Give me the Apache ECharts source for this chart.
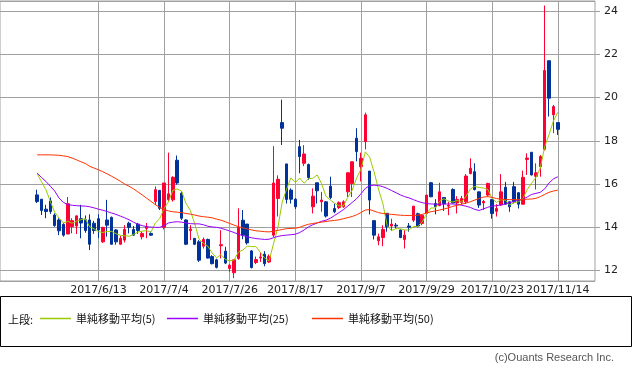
<!DOCTYPE html>
<html><head><meta charset="utf-8">
<script src="https://cdn.jsdelivr.net/npm/echarts@6/dist/echarts.min.js"></script>
<style>html,body{margin:0;padding:0;background:#fff;}#c{width:633px;height:370px;}</style>
</head><body><div id="c"></div>
<script>
const dates = ['2017/5/24','2017/5/25','2017/5/26','2017/5/29','2017/5/30','2017/5/31',
'2017/6/1','2017/6/2','2017/6/5','2017/6/6','2017/6/7','2017/6/8','2017/6/9','2017/6/12','2017/6/13','2017/6/14','2017/6/15','2017/6/16','2017/6/19','2017/6/20','2017/6/21','2017/6/22','2017/6/23','2017/6/26','2017/6/27','2017/6/28','2017/6/29','2017/6/30',
'2017/7/3','2017/7/4','2017/7/5','2017/7/6','2017/7/7','2017/7/10','2017/7/11','2017/7/12','2017/7/13','2017/7/14','2017/7/18','2017/7/19','2017/7/20','2017/7/21','2017/7/24','2017/7/25','2017/7/26','2017/7/27','2017/7/28','2017/7/31',
'2017/8/1','2017/8/2','2017/8/3','2017/8/4','2017/8/7','2017/8/8','2017/8/9','2017/8/10','2017/8/14','2017/8/15','2017/8/16','2017/8/17','2017/8/18','2017/8/21','2017/8/22','2017/8/23','2017/8/24','2017/8/25','2017/8/28','2017/8/29','2017/8/30','2017/8/31',
'2017/9/1','2017/9/4','2017/9/5','2017/9/6','2017/9/7','2017/9/8','2017/9/11','2017/9/12','2017/9/13','2017/9/14','2017/9/15','2017/9/19','2017/9/20','2017/9/21','2017/9/22','2017/9/25','2017/9/26','2017/9/27','2017/9/28','2017/9/29',
'2017/10/2','2017/10/3','2017/10/4','2017/10/5','2017/10/6','2017/10/10','2017/10/11','2017/10/12','2017/10/13','2017/10/16','2017/10/17','2017/10/18','2017/10/19','2017/10/20','2017/10/23','2017/10/24','2017/10/25','2017/10/26','2017/10/27','2017/10/30','2017/10/31',
'2017/11/1','2017/11/2','2017/11/6','2017/11/7','2017/11/8','2017/11/9','2017/11/10','2017/11/13','2017/11/14'];

const tickLabels = ['2017/6/13','2017/7/4','2017/7/26','2017/8/17','2017/9/7','2017/9/29','2017/10/23','2017/11/14'];

const opens = [15.50,15.30,14.84,15.22,14.57,14.34,14.14,13.69,14.03,14.06,
14.40,14.35,14.34,14.19,14.40,13.33,14.34,14.46,13.88,13.22,
13.41,14.19,13.90,14.15,13.56,13.95,13.72,15.19,15.71,14.00,
15.28,15.27,17.10,15.58,14.34,13.85,13.49,13.33,13.13,13.44,
12.65,12.50,13.15,12.90,12.10,11.90,12.56,14.33,14.15,12.91,
12.37,12.58,12.76,12.40,13.64,15.33,18.84,16.93,15.72,15.30,
17.73,16.96,16.90,14.95,16.06,15.18,15.18,15.90,14.87,14.92,
14.95,15.64,16.03,18.12,16.80,17.96,16.60,14.31,13.38,13.53,
14.65,14.06,14.10,13.88,13.44,14.06,14.33,14.63,14.18,14.64,
16.06,15.10,15.00,15.38,14.98,15.75,15.13,15.15,15.18,16.49,
16.57,15.64,15.13,15.49,15.29,14.74,15.03,15.85,15.18,15.88,
15.60,15.07,17.14,17.47,16.36,16.80,17.61,21.70,19.20,18.84];

const closes = [15.19,14.78,14.73,14.73,14.08,13.84,13.64,15.09,14.31,14.53,
14.20,13.85,13.22,13.85,13.88,14.00,14.10,13.22,13.33,13.49,
13.90,14.00,13.64,13.85,13.72,14.03,13.64,15.74,14.88,16.05,
15.55,16.31,16.05,14.42,13.22,13.92,13.22,12.48,13.44,12.58,
12.32,12.15,13.20,12.35,12.25,12.50,14.00,13.64,13.28,12.14,
12.51,12.63,12.32,12.66,16.05,16.22,18.58,15.29,15.30,14.95,
17.27,17.39,16.30,15.44,15.69,15.26,14.52,15.38,14.72,15.14,
15.18,16.52,17.03,17.50,17.19,19.20,15.26,13.64,13.56,13.90,
14.02,14.15,14.06,13.53,13.64,14.00,14.98,14.06,14.56,15.49,
15.41,14.95,15.64,15.10,15.02,15.13,15.29,15.33,16.37,16.73,
15.75,15.03,15.20,16.03,14.64,14.87,15.64,15.07,14.95,15.18,
15.07,16.31,17.20,16.42,16.52,17.27,21.25,19.97,19.58,18.53];

const lows = [15.12,14.57,14.42,14.62,14.03,13.64,13.57,13.69,13.72,13.69,
13.49,13.75,12.95,13.70,13.50,13.28,13.57,13.20,13.20,13.20,
13.30,13.72,13.60,13.70,13.44,13.50,13.60,15.04,14.80,13.90,
15.20,15.19,15.97,14.34,13.18,13.41,13.18,12.40,13.02,12.56,
12.29,12.10,12.56,12.30,11.95,11.65,12.50,13.45,13.20,12.10,
12.30,12.40,12.20,12.35,13.55,14.50,17.80,15.10,15.10,14.85,
16.50,16.83,16.20,14.64,15.10,14.72,14.45,15.30,14.65,14.85,
14.90,15.40,15.40,17.05,16.12,17.60,14.60,13.44,13.17,13.13,
13.80,13.84,13.95,13.50,13.02,13.80,14.25,14.00,14.10,14.60,
15.40,14.60,14.98,14.76,14.56,15.10,14.64,15.05,15.08,16.45,
15.70,14.90,14.80,15.42,14.40,14.50,15.00,15.05,14.72,15.10,
14.87,15.05,16.42,16.40,15.75,16.34,17.55,19.12,18.35,18.27];

const highs = [15.74,15.30,15.04,15.38,14.65,14.42,14.19,15.40,14.42,14.53,
15.04,14.55,14.60,14.30,14.60,14.02,15.27,14.50,13.92,13.60,
14.10,14.26,14.06,14.20,13.80,14.20,13.80,15.89,15.71,16.05,
17.45,16.36,17.32,15.66,14.37,14.10,13.49,13.41,13.53,13.48,
12.71,12.55,13.87,13.10,12.30,12.50,14.88,14.80,14.15,12.95,
12.65,12.85,12.90,12.75,17.75,16.40,19.90,16.93,15.80,15.35,
18.04,17.80,16.95,15.80,16.06,15.64,15.20,16.34,15.10,15.20,
15.25,16.55,17.05,18.58,17.45,19.30,16.60,14.31,13.71,14.10,
14.65,14.40,14.20,13.90,13.87,14.20,14.99,14.68,14.60,15.50,
16.10,15.30,16.06,15.38,15.18,15.80,15.44,15.45,16.46,17.19,
16.96,15.65,15.26,16.06,15.29,15.07,16.46,16.10,15.20,16.10,
15.62,16.62,17.42,17.47,16.96,17.34,24.25,21.70,19.66,18.84];

const ma5 = [16.48,16.10,15.74,15.20,14.70,14.43,14.20,14.28,14.19,14.28,
14.35,14.40,14.02,13.93,13.80,13.76,13.81,13.81,13.71,13.63,
13.61,13.59,13.67,13.78,13.82,13.85,13.78,14.20,14.40,14.87,
15.17,15.71,15.77,15.68,15.11,14.78,14.17,13.45,13.26,13.13,
12.81,12.59,12.74,12.52,12.45,12.49,12.86,12.95,13.13,13.11,
13.11,12.84,12.58,12.45,13.23,13.98,15.17,15.76,16.29,16.07,
16.28,16.04,16.24,16.27,16.42,16.02,15.44,15.26,15.11,15.00,
14.99,15.39,15.72,16.27,16.68,17.49,17.24,16.56,15.77,15.11,
14.08,13.85,13.94,13.93,13.88,13.88,14.04,14.04,14.25,14.62,
14.90,14.89,15.21,15.32,15.22,15.17,15.24,15.17,15.43,15.77,
15.89,15.84,15.82,15.75,15.33,15.15,15.28,15.25,15.03,15.14,
15.18,15.32,15.74,16.04,16.30,16.74,17.73,18.29,18.92,19.32];

const ma25 = [16.51,16.30,16.12,15.90,15.68,15.35,
15.15,15.05,15.02,15.00,14.99,
14.98,14.95,14.90,14.84,14.79,
14.73,14.66,14.60,14.52,14.44,
14.35,14.24,14.14,14.08,14.03,
14.01,14.00,14.00,14.08,14.20,
14.24,14.26,14.24,14.20,14.17,
14.16,14.16,14.12,14.05,14.02,
14.00,13.96,13.90,13.83,13.76,
13.68,13.62,13.56,13.52,13.48,
13.46,13.44,13.45,13.52,13.58,
13.62,13.64,13.66,13.68,13.76,
13.88,14.02,14.12,14.20,14.28,
14.33,14.42,14.55,14.68,14.82,
14.98,15.15,15.32,15.55,15.80,
15.93,15.95,15.93,15.88,15.80,
15.70,15.60,15.50,15.42,15.36,
15.28,15.20,15.14,15.10,15.08,
15.07,15.07,15.07,15.08,15.08,
15.06,15.02,14.98,14.92,14.83,
14.78,14.85,14.93,14.98,15.00,
15.04,15.08,15.14,15.20,15.26,
15.30,15.40,15.52,15.57,15.62,
15.78,16.05,16.24,16.34];

const ma50 = [17.35,17.35,17.35,17.35,17.34,17.33,
17.30,17.27,17.20,17.12,17.03,
16.95,16.82,16.74,16.66,16.57,
16.47,16.36,16.25,16.13,16.00,
15.90,15.78,15.64,15.50,15.35,
15.20,15.05,14.92,14.82,14.76,
14.72,14.70,14.68,14.64,14.61,
14.57,14.52,14.49,14.47,14.44,
14.38,14.33,14.26,14.18,14.10,
14.03,13.98,13.93,13.88,13.84,
13.82,13.80,13.79,13.82,13.86,
13.90,13.94,13.95,13.96,14.00,
14.08,14.14,14.18,14.21,14.24,
14.27,14.30,14.32,14.35,14.40,
14.45,14.50,14.58,14.68,14.80,
14.82,14.75,14.68,14.64,14.62,
14.60,14.58,14.56,14.55,14.55,
14.55,14.56,14.60,14.66,14.72,
14.76,14.80,14.85,14.90,14.97,
15.02,15.07,15.12,15.18,15.26,
15.33,15.40,15.42,15.38,15.33,
15.30,15.29,15.28,15.28,15.28,
15.29,15.30,15.31,15.34,15.42,
15.52,15.62,15.68,15.72];

const maNames = ['単純移動平均(5)','単純移動平均(25)','単純移動平均(50)'];
const maColors = ['#99cc00','#9900ff','#ff3300'];

// empty slots on both sides of the axis
const PAD = 8;
const cats = [].concat(
  Array.from({length: PAD}, (_, i) => 'pre' + i),
  dates,
  Array.from({length: PAD}, (_, i) => 'post' + i)
);
const padLine = Array.from({length: PAD}, () => '-');
const padCandle = Array.from({length: PAD}, () => ['-', '-', '-', '-']);
const candleData = [].concat(padCandle, opens.map((o, i) => [o, closes[i], lows[i], highs[i]]), padCandle);
const lineData = arr => [].concat(padLine, arr, padLine);
const isTick = (idx, val) => tickLabels.indexOf(val) >= 0;

const GRID = '#a0a0a0';
const chart = echarts.init(document.getElementById('c'), null, {renderer: 'canvas'});
chart.setOption({
  animation: false,
  backgroundColor: '#fff',
  grid: {left: 0, top: 1, width: 595, height: 280, show: true, borderColor: GRID, borderWidth: 1, backgroundColor: 'transparent'},
  xAxis: {
    type: 'category', data: cats, boundaryGap: true,
    axisLine: {show: false}, axisTick: {show: false},
    axisLabel: {interval: isTick, margin: 4, fontSize: 11, color: '#222', fontFamily: 'DejaVu Sans'},
    splitLine: {show: true, alignWithLabel: true, interval: isTick, lineStyle: {color: GRID, width: 1}}
  },
  yAxis: {
    type: 'value', position: 'right', min: 11.52, max: 24.46, splitNumber: 6, scale: true,
    axisLine: {show: false},
    axisTick: {show: true, length: 5, lineStyle: {color: GRID}},
    axisLabel: {margin: 9, fontSize: 11, color: '#222', fontFamily: 'DejaVu Sans', showMinLabel: false, showMaxLabel: false,
      formatter: v => (Math.abs(v - Math.round(v)) < 1e-6 ? String(Math.round(v)) : '')},
    splitLine: {show: true, lineStyle: {color: GRID, width: 1}}
  },
  legend: maNames.map((n, k) => ({
    data: [n], left: [40, 167, 312][k], top: 313, padding: 0, icon: 'rect', itemWidth: 31, itemHeight: 1.5,
    selectedMode: false,
    textStyle: {fontSize: 11, color: '#111', fontFamily: 'Noto Sans CJK JP'}
  })),
  graphic: [
    {type: 'rect', shape: {x: 0.5, y: 296.5, width: 631, height: 50}, style: {fill: 'none', stroke: '#000', lineWidth: 1}, silent: true},
    {type: 'text', x: 8, y: 320, style: {text: '上段:', font: '11px "Noto Sans CJK JP"', fill: '#111', verticalAlign: 'middle'}, silent: true},
    {type: 'text', x: 614, y: 358, style: {text: '(c)Ouants Research Inc.', font: '11px "Liberation Sans"', fill: '#555', align: 'right', verticalAlign: 'middle'}, silent: true}
  ],
  series: [
    {
      type: 'candlestick', name: 'price', data: candleData, barWidth: 3,
      itemStyle: {color: '#ff0033', color0: '#003399', borderColor: '#ff0033', borderColor0: '#003399', borderWidth: 1}
    }
  ].concat([ma5, ma25, ma50].map((arr, k) => ({
    type: 'line', name: maNames[k], data: lineData(arr), showSymbol: false, symbol: 'none',
    lineStyle: {color: maColors[k], width: 1}, itemStyle: {color: maColors[k]}, z: 3
  })))
});
</script>
</body></html>
